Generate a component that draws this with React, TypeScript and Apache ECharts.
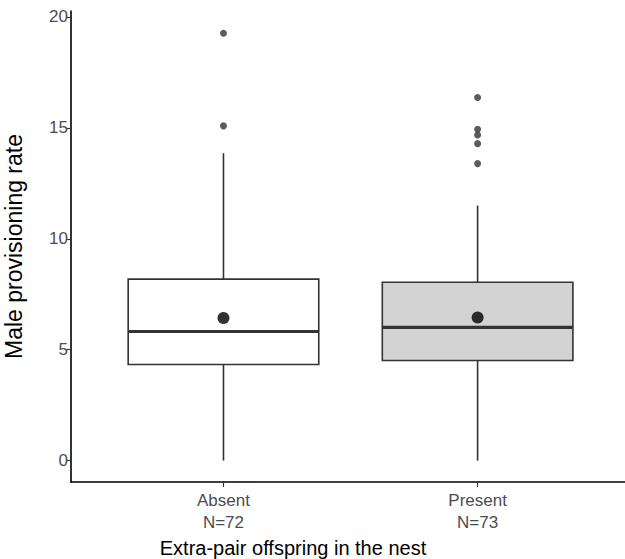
import React, { useEffect, useRef } from "react";
import * as echarts from "echarts";

const categories = ["Absent", "Present"];
const sampleSizes = ["N=72", "N=73"];
// [whiskerLow, Q1, median, Q3, whiskerHigh]
const boxStats = [
  [0, 4.33, 5.82, 8.18, 13.86],
  [0, 4.51, 6.01, 8.04, 11.5],
];
const boxFills = ["#FFFFFF", "#D3D3D3"];
const means = [6.43, 6.45];
const outliersAbsent = [19.27, 15.09];
const outliersPresent = [16.37, 14.94, 14.68, 14.29, 13.39];
const yTicks = [0, 5, 10, 15, 20];

export default function App() {
  const ref = useRef<HTMLDivElement>(null);
  useEffect(() => {
    if (!ref.current) return;
    const chart = echarts.init(ref.current, null, { renderer: "svg" });
    const boxData = boxStats.map((s, i) => [i + 1, ...s]);
    const outlierData = [
      ...outliersAbsent.map((v) => [1, v]),
      ...outliersPresent.map((v) => [2, v]),
    ];
    const meanData = means.map((m, i) => [i + 1, m]);
    const stroke = "#333333";
    const font = "Liberation Sans, Arial, sans-serif";
    chart.setOption({
      animation: false,
      grid: { left: 71, right: 0, top: 11, bottom: 77, containLabel: false, outerBoundsMode: "none" },
      xAxis: {
        type: "value",
        min: 0.4,
        max: 2.58,
        splitLine: { show: false },
        axisLine: { show: true, onZero: false, lineStyle: { color: "#000", width: 1.6 } },
        axisTick: { show: true, length: 5, customValues: [1, 2], lineStyle: { color: stroke, width: 1.1 } },
        axisLabel: {
          customValues: [1, 2],
          formatter: (v: number) => {
            const i = Math.round(v) - 1;
            return categories[i] + "\n" + sampleSizes[i];
          },
          color: "#4D4D4D",
          fontSize: 17,
          lineHeight: 22,
          margin: 7,
          fontFamily: font,
        },
        name: "Extra-pair offspring in the nest",
        nameLocation: "middle",
        nameGap: 53,
        nameTextStyle: { color: "#000", fontSize: 20, fontFamily: font, padding: [0, 110, 0, 0] },
      },
      yAxis: {
        type: "value",
        min: -0.965,
        max: 20.27,
        splitLine: { show: false },
        axisLine: { show: true, onZero: false, lineStyle: { color: "#000", width: 1.6 } },
        axisTick: { show: true, length: 5, customValues: yTicks, lineStyle: { color: stroke, width: 1.1 } },
        axisLabel: {
          customValues: yTicks,
          color: "#4D4D4D",
          fontSize: 17,
          margin: 3,
          fontFamily: font,
        },
        name: "Male provisioning rate",
        nameLocation: "middle",
        nameGap: 46,
        nameTextStyle: { color: "#000", fontSize: 23, fontFamily: font },
      },
      series: [
        {
          type: "custom",
          data: boxData,
          encode: { x: 0, y: [1, 2, 3, 4, 5] },
          renderItem: (params: any, api: any) => {
            const x = api.value(0);
            const lo = api.coord([x, api.value(1)]);
            const q1 = api.coord([x, api.value(2)]);
            const med = api.coord([x, api.value(3)]);
            const q3 = api.coord([x, api.value(4)]);
            const hi = api.coord([x, api.value(5)]);
            const w = api.size([0.75, 0])[0];
            const cx = lo[0];
            const idx = params.dataIndex;
            return {
              type: "group",
              children: [
                { type: "line", shape: { x1: cx, y1: q1[1], x2: cx, y2: lo[1] }, style: { stroke, lineWidth: 1.6 } },
                { type: "line", shape: { x1: cx, y1: q3[1], x2: cx, y2: hi[1] }, style: { stroke, lineWidth: 1.6 } },
                {
                  type: "rect",
                  shape: { x: cx - w / 2, y: q3[1], width: w, height: q1[1] - q3[1] },
                  style: { fill: boxFills[idx], stroke, lineWidth: 1.6 },
                },
                { type: "line", shape: { x1: cx - w / 2, y1: med[1], x2: cx + w / 2, y2: med[1] }, style: { stroke, lineWidth: 3.2 } },
              ],
            };
          },
        },
        {
          type: "scatter",
          data: outlierData,
          symbolSize: 7,
          itemStyle: { color: stroke },
        },
        {
          type: "scatter",
          data: meanData,
          symbolSize: 12,
          itemStyle: { color: "#000" },
        },
      ],
    });
    return () => chart.dispose();
  }, []);
  return (
    <div
      ref={ref}
      style={{ position: "fixed", left: 0, top: 0, width: 625, height: 559, background: "#fff" }}
    />
  );
}
